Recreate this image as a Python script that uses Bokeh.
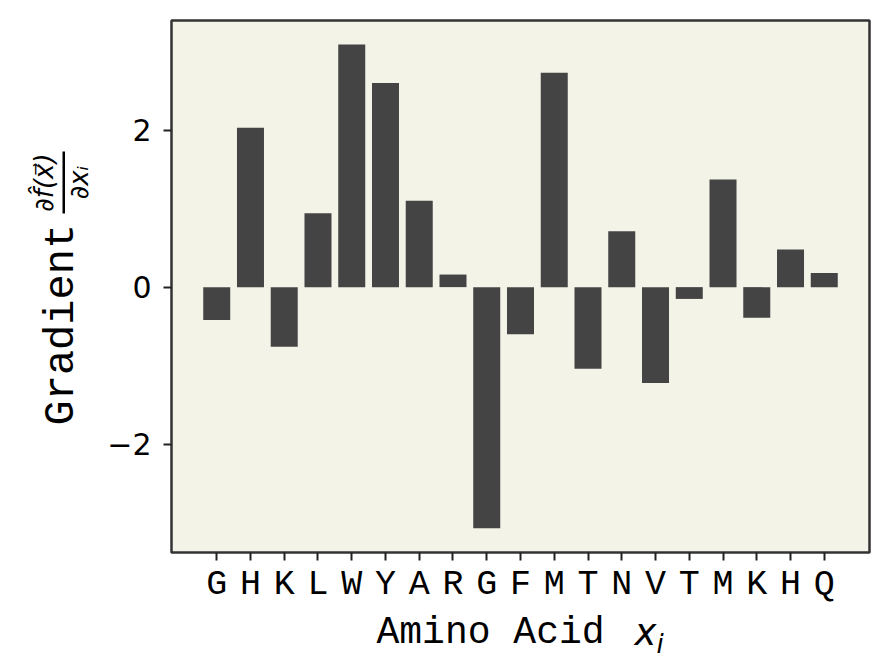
import math
from bokeh.plotting import figure
from bokeh.layouts import column, row
from bokeh.models import Range1d, FixedTicker, Label, BoxAnnotation
from bokeh.embed import file_html
from bokeh.resources import INLINE

# ---- data ----
residues = ["G", "H", "K", "L", "W", "Y", "A", "R", "G", "F",
            "M", "T", "N", "V", "T", "M", "K", "H", "Q"]
gradients = [-0.42, 2.03, -0.76, 0.94, 3.09, 2.60, 1.10, 0.16, -3.07, -0.60,
             2.73, -1.04, 0.71, -1.22, -0.15, 1.37, -0.39, 0.48, 0.18]
y_ticks = [-2, 0, 2]
y_tick_labels = ["\u22122", "0", "2"]
x_label = "Amino Acid"
y_label = "Gradient"

positions = list(range(len(residues)))

MONO = "Liberation Mono"
SANS = "DejaVu Sans"

LEFT_W = 100      # width of the strip holding the y-axis title
TOP_H = 603       # height of the main figure row (20 + 532 + 51)

# ---- main chart ----
p = figure(
    output_backend="svg", toolbar_location=None,
    frame_width=698, frame_height=532,
    min_border_left=71, min_border_right=11, min_border_top=20, min_border_bottom=51,
    x_range=Range1d(-1.34, len(residues) - 1 + 1.34),
    y_range=Range1d(-3.378, 3.394),
)
p.background_fill_color = "#f3f3e8"
p.border_fill_color = "white"
p.outline_line_color = "#333333"
p.outline_line_width = 2.5
p.xgrid.visible = False
p.ygrid.visible = False

p.vbar(x=positions, top=gradients, bottom=0, width=0.8,
       fill_color="#444444", line_color=None)

p.xaxis.ticker = FixedTicker(ticks=positions)
p.xaxis.major_label_overrides = {i: r for i, r in zip(positions, residues)}
p.yaxis.ticker = FixedTicker(ticks=y_ticks)
p.yaxis.major_label_overrides = {t: l for t, l in zip(y_ticks, y_tick_labels)}
for ax in (p.xaxis, p.yaxis):
    ax.axis_line_color = None
    ax.major_tick_line_color = "#222222"
    ax.major_tick_line_width = 2
    ax.major_tick_out = 8
    ax.major_tick_in = 0
    ax.minor_tick_line_color = None
    ax.major_label_text_color = "black"
p.xaxis.major_label_text_font = MONO
p.xaxis.major_label_text_font_size = "35px"
p.xaxis.major_label_standoff = 4
p.yaxis.major_label_text_font = SANS
p.yaxis.major_label_text_font_size = "30px"
p.yaxis.major_label_standoff = 12


def blank(width, height):
    f = figure(output_backend="svg", toolbar_location=None, width=width, height=height,
               min_border=0, x_axis_type=None, y_axis_type=None,
               x_range=Range1d(0, 1), y_range=Range1d(0, 1))
    f.outline_line_color = None
    f.background_fill_color = "white"
    f.border_fill_color = "white"
    return f


def lab(f, x, y, text, font, size, style="normal", angle=0.0, align="left"):
    f.add_layout(Label(x=x, y=y, x_units="canvas", y_units="canvas",
                       text=text, text_font=font, text_font_size=size,
                       text_font_style=style, angle=angle, text_color="black",
                       text_align=align, text_baseline="alphabetic"))


# ---- y-axis title strip (canvas coords = page coords) ----
yf = blank(LEFT_W, TOP_H)
lab(yf, 61, 425, y_label, MONO, "42px", angle=math.pi / 2)
lab(yf, 43, 182, "\u2202f\u0302(x\u20d7)", SANS, "26px", style="italic",
    angle=math.pi / 2, align="center")
lab(yf, 78, 182, "\u2202x\u1d62", SANS, "26px", style="italic",
    angle=math.pi / 2, align="center")
yf.add_layout(BoxAnnotation(left=62, right=64.5, top=151, bottom=213,
                            left_units="canvas", right_units="canvas",
                            top_units="canvas", bottom_units="canvas",
                            fill_color="black", fill_alpha=1.0, line_color=None))

# ---- x-axis title strip (canvas y = page y - TOP_H) ----
xf = blank(880, 60)
lab(xf, 376, 628 - TOP_H, x_label, MONO, "38px")
lab(xf, 634, 628 - TOP_H, "x", SANS, "37px", style="italic")
lab(xf, 656, 639 - TOP_H, "i", SANS, "26px", style="italic")

layout = column(row(yf, p), xf)

open("out.html", "w").write(file_html(layout, INLINE))
